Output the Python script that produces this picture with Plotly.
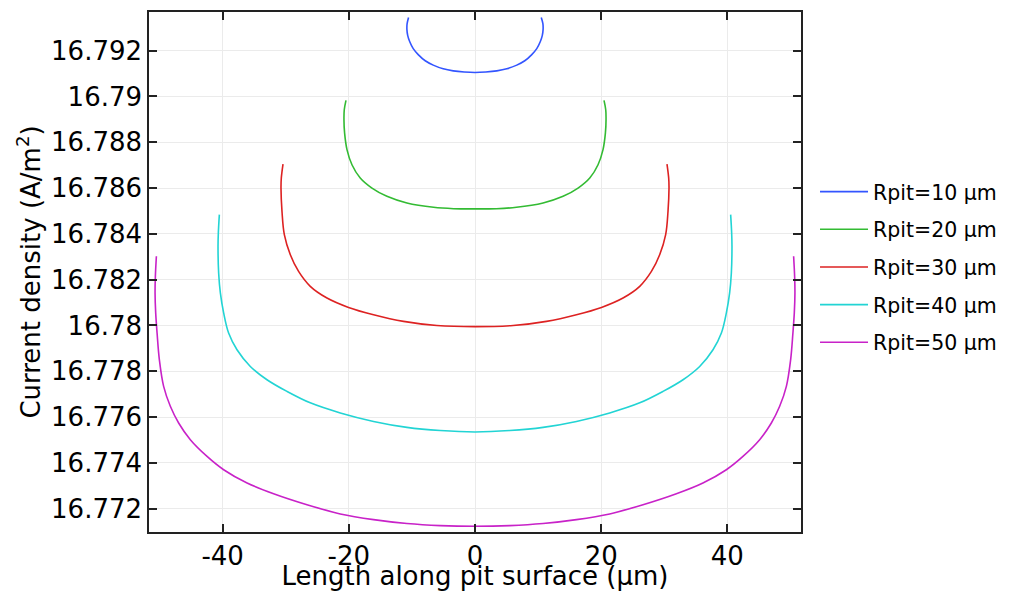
import plotly.graph_objects as go

# Length along pit surface (um) and current density (A/m^2)
x10 = [-10.53, -10.76, -10.79, -10.66, -10.34, -9.79, -9.00, -7.89, -6.62, -5.04, -3.45, -1.71, 0.0,
       1.71, 3.45, 5.04, 6.62, 7.89, 9.00, 9.79, 10.34, 10.66, 10.79, 10.76, 10.50]
y10 = [16.79345, 16.79318, 16.79292, 16.79266, 16.79239, 16.79209, 16.79183, 16.79156, 16.79137, 16.79121, 16.79112, 16.79107, 16.79105,
       16.79107, 16.79112, 16.79121, 16.79137, 16.79156, 16.79183, 16.79209, 16.79239, 16.79266, 16.79292, 16.79318, 16.79345]

x20 = [-20.45, -20.72, -20.77, -20.67, -20.29, -19.50, -18.19, -16.33, -13.96, -10.79, -6.57, -3.40, 0.0,
       3.40, 6.57, 10.79, 13.96, 16.33, 18.19, 19.50, 20.29, 20.67, 20.77, 20.72, 20.45]
y20 = [16.78983, 16.78942, 16.78899, 16.78841, 16.78768, 16.78702, 16.78644, 16.78600, 16.78564, 16.78535, 16.78516, 16.78510, 16.78509,
       16.78510, 16.78516, 16.78535, 16.78564, 16.78600, 16.78644, 16.78702, 16.78768, 16.78841, 16.78899, 16.78942, 16.78983]

x30 = [-30.43, -30.70, -30.75, -30.59, -30.22, -29.27, -27.96, -26.11, -23.46, -20.04, -16.08, -11.33, -6.04, 0.0,
       6.04, 11.33, 16.08, 20.04, 23.46, 26.11, 27.96, 29.27, 30.22, 30.59, 30.75, 30.70, 30.43]
y30 = [16.78705, 16.78644, 16.78600, 16.78498, 16.78397, 16.78309, 16.78236, 16.78171, 16.78120, 16.78079, 16.78047, 16.78018, 16.78000, 16.77995,
       16.78000, 16.78018, 16.78047, 16.78079, 16.78120, 16.78171, 16.78236, 16.78309, 16.78397, 16.78498, 16.78600, 16.78644, 16.78705]

x40 = [-40.52, -40.68, -40.73, -40.63, -40.36, -39.84, -39.05, -37.72, -35.61, -32.97, -29.80, -26.11, -21.35, -16.08, -10.79, -5.51, 0.0,
       5.51, 10.79, 16.08, 21.35, 26.11, 29.80, 32.97, 35.61, 37.72, 39.05, 39.84, 40.36, 40.63, 40.73, 40.68, 40.52]
y40 = [16.78484, 16.78404, 16.78345, 16.78229, 16.78142, 16.78055, 16.77967, 16.77894, 16.77821, 16.77763, 16.77712, 16.77662, 16.77618, 16.77581, 16.77555, 16.77541, 16.77535,
       16.77541, 16.77555, 16.77581, 16.77618, 16.77662, 16.77712, 16.77763, 16.77821, 16.77894, 16.77967, 16.78055, 16.78142, 16.78229, 16.78345, 16.78404, 16.78484]

x50 = [-50.50, -50.66, -50.71, -50.61, -50.39, -50.03, -49.35, -48.29, -46.97, -45.12, -42.47, -39.84, -36.13, -31.92, -26.63, -21.35, -16.08, -10.79, -5.51, 0.0,
       5.51, 10.79, 16.08, 21.35, 26.63, 31.92, 36.13, 39.84, 42.47, 45.12, 46.97, 48.29, 49.35, 50.03, 50.39, 50.61, 50.71, 50.66, 50.50]
y50 = [16.78302, 16.78214, 16.78142, 16.78055, 16.77967, 16.77851, 16.77734, 16.77647, 16.77574, 16.77501, 16.77428, 16.77370, 16.77312, 16.77265, 16.77217, 16.77177, 16.77152, 16.77135, 16.77126, 16.77123,
       16.77126, 16.77135, 16.77152, 16.77177, 16.77217, 16.77265, 16.77312, 16.77370, 16.77428, 16.77501, 16.77574, 16.77647, 16.77734, 16.77851, 16.77967, 16.78055, 16.78142, 16.78214, 16.78302]

names = ["Rpit=10 µm", "Rpit=20 µm", "Rpit=30 µm", "Rpit=40 µm", "Rpit=50 µm"]
colors = ["#3355ff", "#33bb33", "#dd2222", "#22d4d4", "#c822c8"]
xs = [x10, x20, x30, x40, x50]
ys = [y10, y20, y30, y40, y50]

y_ticks = [16.772, 16.774, 16.776, 16.778, 16.78, 16.782, 16.784, 16.786, 16.788, 16.79, 16.792]
y_ticklabels = ["16.772", "16.774", "16.776", "16.778", "16.78", "16.782", "16.784", "16.786", "16.788", "16.79", "16.792"]
x_ticks = [-40, -20, 0, 20, 40]
x_ticklabels = ["-40", "-20", "0", "20", "40"]

FONT = "DejaVu Sans"

fig = go.Figure()
for i in range(5):
    fig.add_trace(go.Scatter(
        x=xs[i], y=ys[i], mode="lines", name=names[i],
        line=dict(color=colors[i], width=1.6, shape="spline", smoothing=1.0),
        legendgroup=str(i),
    ))

fig.update_layout(
    width=1002, height=583,
    margin=dict(l=141, r=209, t=4, b=59, autoexpand=False),
    paper_bgcolor="white", plot_bgcolor="white",
    font=dict(family=FONT, color="black", size=26),
    showlegend=True,
    legend=dict(
        x=1.0215, xanchor="left", xref="paper", y=0.509, yanchor="middle",
        font=dict(family=FONT, size=20.5, color="black"),
        itemwidth=48, tracegroupgap=8, bgcolor="rgba(0,0,0,0)",
        borderwidth=0,
    ),
)
fig.update_xaxes(
    range=[-51.67, 51.67], tickvals=x_ticks, ticktext=x_ticklabels,
    ticks="inside", ticklen=8, tickwidth=1.5, tickcolor="#222",
    showline=True, linecolor="#222", linewidth=1.5, mirror="ticks",
    showgrid=True, gridcolor="#ebebeb", gridwidth=1, zeroline=False,
    tickfont=dict(size=26), automargin=True,
    title=dict(text="Length along pit surface (µm)", font=dict(size=26), standoff=5),
)
fig.update_yaxes(
    range=[16.77098, 16.79369], tickvals=y_ticks, ticktext=y_ticklabels,
    ticks="inside", ticklen=8, tickwidth=1.5, tickcolor="#222",
    showline=True, linecolor="#222", linewidth=1.5, mirror="ticks",
    showgrid=True, gridcolor="#ebebeb", gridwidth=1, zeroline=False,
    tickfont=dict(size=26), automargin=True,
    title=dict(text="Current density (A/m<sup>2</sup>)", font=dict(size=26), standoff=3),
)

fig.write_html("out.html")
